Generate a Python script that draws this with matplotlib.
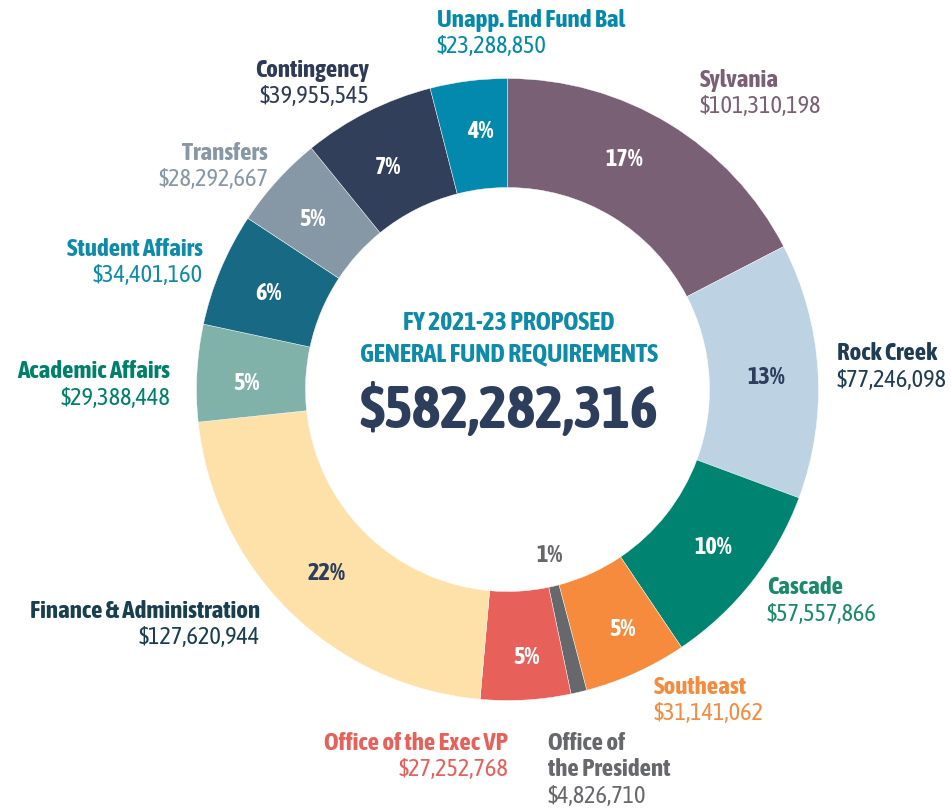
import matplotlib.pyplot as plt

W, H = 951, 808

# data
names = ['Sylvania', 'Rock Creek', 'Cascade', 'Southeast', 'Office of\nthe President',
         'Office of the Exec VP', 'Finance & Administration', 'Academic Affairs',
         'Student Affairs', 'Transfers', 'Contingency', 'Unapp. End Fund Bal']
values = [101310198, 77246098, 57557866, 31141062, 4826710, 27252768,
          127620944, 29388448, 34401160, 28292667, 39955545, 23288850]
title_lines = ['FY 2021-23 PROPOSED', 'GENERAL FUND REQUIREMENTS']

# style
wedge_colors = ['#7a6075', '#bdd3e4', '#008472', '#f68b3e', '#67686c', '#e8605a',
                '#fee1a8', '#80b2aa', '#186a84', '#8698a5', '#313f5a', '#0289ad']
label_colors = ['#7a6075', '#1e3d52', '#1b8a6b', '#f68b3e', '#67686c', '#e8605a',
                '#173f50', '#00806a', '#0e8baa', '#8698a5', '#2d3a58', '#0289ad']
pct_colors = ['white', '#2c3e5c', 'white', 'white', '#67686c', 'white',
              '#2c3e5c', 'white', 'white', 'white', 'white', 'white']
# pixel positions (image coords) for percentage text
pct_pos = [(624, 160), (766, 377), (713, 548), (622, 630), (550, 556), (526, 657),
           (327, 574), (246, 383), (268, 293), (312, 220), (388, 167), (480, 131)]
# label anchor: x, y of first line centre, alignment
lab_pos = [(700, 80, 'left'), (837, 354, 'left'), (767, 588, 'left'), (654, 687, 'left'),
           (548, 743, 'left'), (508, 743, 'right'), (260, 611, 'right'),
           (170, 372, 'right'), (203, 249, 'right'), (268, 153, 'right'),
           (369, 70, 'right'), (437, 20, 'left')]

COND = ['Asap Condensed', 'DejaVu Sans']
LINE = 26.5

fig = plt.figure(figsize=(W / 100, H / 100), dpi=100)
ax = fig.add_axes([0, 0, 1, 1])

cx, cy = 507.5, H - 389.5
ax.pie(values, colors=wedge_colors, startangle=90, counterclock=False,
       center=(cx, cy), radius=311,
       wedgeprops=dict(width=109, edgecolor='white', linewidth=0.3))
ax.set_xlim(0, W)
ax.set_ylim(0, H)
ax.set_aspect('equal')
ax.axis('off')


def txt(x, y, s, **kw):
    ax.text(x, H - y, s, va='center', family=COND, stretch='condensed', **kw)


total = sum(values)
for v, (px, py), c in zip(values, pct_pos, pct_colors):
    txt(px, py, f'{round(100 * v / total)}%', ha='center', fontsize=17.5,
        fontweight='bold', color=c)

for name, v, (lx, ly, al), c in zip(names, values, lab_pos, label_colors):
    lines = name.split('\n')
    for i, ln in enumerate(lines):
        txt(lx, ly + LINE * i, ln, ha=al, fontsize=18, fontweight='bold', color=c)
    txt(lx, ly + LINE * len(lines), f'${v:,}', ha=al, fontsize=17.5, color=c)

txt(509, 322, title_lines[0], ha='center', fontsize=18.5, fontweight='bold', color='#0e8baa')
txt(509, 354, title_lines[1], ha='center', fontsize=18.5, fontweight='bold', color='#0e8baa')
txt(509, 411, f'${total:,}', ha='center', fontsize=43, fontweight='bold', color='#2c3e5c')

fig.savefig('out.png', dpi=100)
